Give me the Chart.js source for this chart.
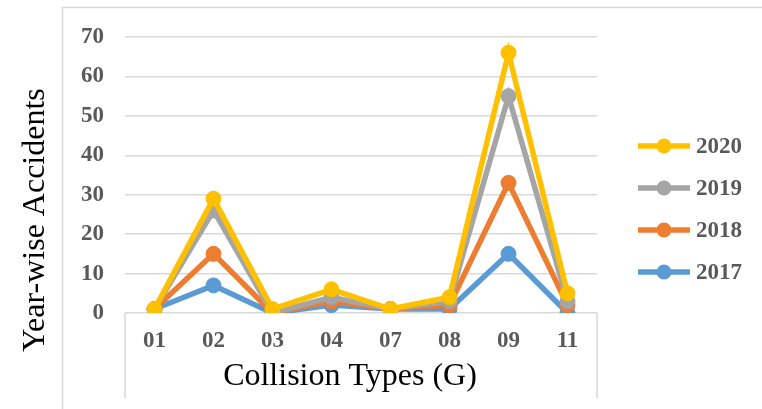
<!DOCTYPE html>
<html>
<head>
<meta charset="utf-8">
<script src="https://cdn.jsdelivr.net/npm/chart.js@4/dist/chart.umd.min.js"></script>
<style>
  html, body { margin: 0; padding: 0; background: #fff; }
  #wrap { position: relative; width: 762px; height: 409px; }
</style>
</head>
<body>
<div id="wrap"><canvas id="collisionChart"></canvas></div>
<script>
  const collisionTypes = ['01', '02', '03', '04', '07', '08', '09', '11'];
  const seriesYears = ['2020', '2019', '2018', '2017'];
  const accidents2020 = [1, 29, 1, 6, 1, 4, 66, 5];
  const accidents2019 = [1, 26, 0, 4, 1, 3, 55, 3];
  const accidents2018 = [1, 15, 0, 3, 1, 2, 33, 2];
  const accidents2017 = [1, 7, 0, 2, 1, 1, 15, 0];
  const yTicks = [0, 10, 20, 30, 40, 50, 60, 70];
  const xTitle = 'Collision Types (G)';
  const yTitle = 'Year-wise Accidents';

  const seriesValues = [accidents2020, accidents2019, accidents2018, accidents2017];
  const seriesColors = ['#FFC000', '#A5A5A5', '#ED7D31', '#5B9BD5'];

  const SERIF = '"Liberation Serif", "Times New Roman", serif';
  const GRID = '#D9D9D9';

  // frame around the chart plus the box under the category axis
  const framePlugin = {
    id: 'frame',
    beforeDraw(chart) {
      const { ctx, chartArea, width, height } = chart;
      ctx.save();
      ctx.strokeStyle = GRID;
      ctx.lineWidth = 1.5;
      ctx.beginPath();
      ctx.moveTo(62.5, height);
      ctx.lineTo(62.5, 7.5);
      ctx.lineTo(width, 7.5);
      ctx.moveTo(chartArea.left, chartArea.bottom);
      ctx.lineTo(chartArea.left, chartArea.bottom + 85);
      ctx.moveTo(chartArea.right, chartArea.bottom);
      ctx.lineTo(chartArea.right, chartArea.bottom + 85);
      ctx.stroke();
      ctx.restore();
    },
  };

  // axis titles, placed independently of the plot area
  const axisTitles = {
    id: 'axisTitles',
    afterDraw(chart) {
      const { ctx, chartArea } = chart;
      ctx.save();
      ctx.fillStyle = '#000';
      ctx.font = '32px ' + SERIF;
      ctx.textAlign = 'center';
      ctx.textBaseline = 'middle';
      ctx.fillText(xTitle, chartArea.left + 225, chartArea.bottom + 64);
      ctx.translate(36, 220);
      ctx.rotate(-Math.PI / 2);
      ctx.fillText(yTitle, 0, 0);
      ctx.restore();
    },
  };

  // legend on the right: line with a marker, then the year
  const sideLegend = {
    id: 'sideLegend',
    afterDraw(chart) {
      const { ctx, chartArea } = chart;
      const x0 = chartArea.right + 41;
      const y0 = 146;
      const step = 42;
      ctx.save();
      chart.data.datasets.forEach((ds, i) => {
        const y = y0 + i * step;
        ctx.strokeStyle = ds.borderColor;
        ctx.lineWidth = 5.5;
        ctx.beginPath();
        ctx.moveTo(x0, y);
        ctx.lineTo(x0 + 52, y);
        ctx.stroke();
        ctx.fillStyle = ds.borderColor;
        ctx.beginPath();
        ctx.arc(x0 + 26, y, 7.5, 0, Math.PI * 2);
        ctx.fill();
        ctx.fillStyle = '#595959';
        ctx.font = 'bold 23px ' + SERIF;
        ctx.textBaseline = 'middle';
        ctx.textAlign = 'left';
        ctx.fillText(ds.label, x0 + 58, y + 1);
      });
      ctx.restore();
    },
  };

  new Chart(document.getElementById('collisionChart'), {
    type: 'line',
    data: {
      labels: collisionTypes,
      datasets: seriesYears.map((year, i) => ({
        label: year,
        data: seriesValues[i],
        borderColor: seriesColors[i],
        backgroundColor: seriesColors[i],
        pointBackgroundColor: seriesColors[i],
        pointBorderColor: seriesColors[i],
        borderWidth: 5.5,
        pointRadius: 7.5,
        pointBorderWidth: 1,
        tension: 0,
      })),
    },
    options: {
      responsive: true,
      maintainAspectRatio: false,
      animation: false,
      layout: { padding: { top: 37, right: 165, left: 0, bottom: 0 } },
      plugins: {
        legend: { display: false },
        tooltip: { enabled: false },
      },
      scales: {
        x: {
          offset: true,
          grid: { display: false, drawTicks: false },
          border: { display: false },
          ticks: {
            padding: 14,
            color: '#595959',
            font: { family: SERIF, size: 23, weight: 'bold' },
          },
          afterFit(scale) { scale.height = 96; },
        },
        y: {
          min: 0,
          max: 70,
          afterBuildTicks(scale) { scale.ticks = yTicks.map((v) => ({ value: v })); },
          grid: { color: GRID, lineWidth: 1.5, drawTicks: false },
          border: { display: false },
          ticks: {
            padding: 21,
            color: '#595959',
            font: { family: SERIF, size: 23, weight: 'bold' },
          },
          afterFit(scale) { scale.width = 125; },
        },
      },
    },
    plugins: [framePlugin, axisTitles, sideLegend],
  });
</script>
</body>
</html>
